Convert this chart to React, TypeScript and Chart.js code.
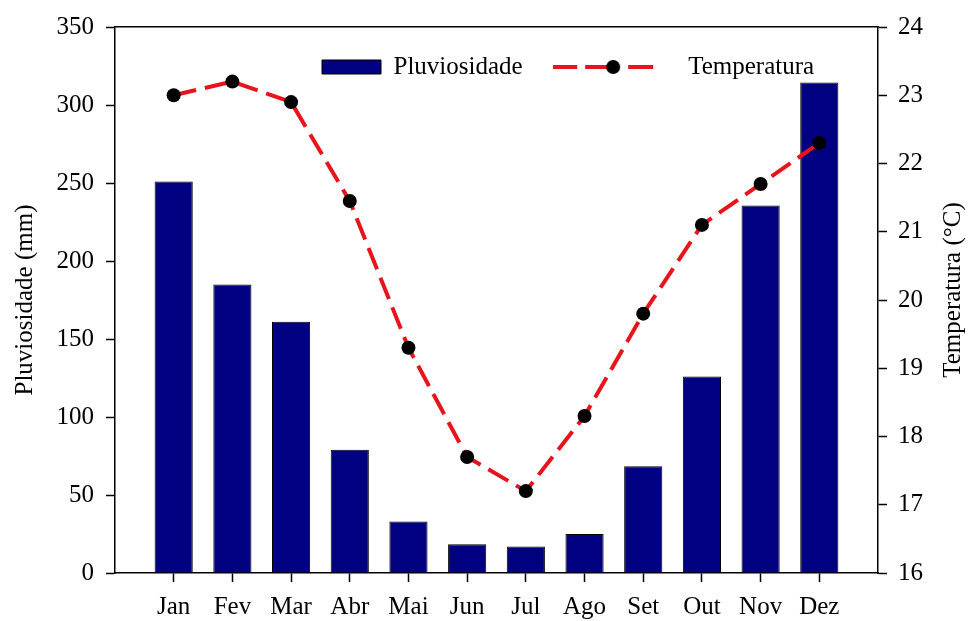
import React, { useEffect, useRef } from 'react';
import { Chart, registerables } from 'chart.js';

Chart.register(...registerables);

const months = ['Jan', 'Fev', 'Mar', 'Abr', 'Mai', 'Jun', 'Jul', 'Ago', 'Set', 'Out', 'Nov', 'Dez'];
const rainfall = [251, 185, 161, 79, 33, 18.5, 17, 25, 68.5, 126, 235.5, 314.5];
const temperature = [23.0, 23.2, 22.9, 21.45, 19.3, 17.7, 17.2, 18.3, 19.8, 21.1, 21.7, 22.3];
const rainTicks = [0, 50, 100, 150, 200, 250, 300, 350];
const tempTicks = [16, 17, 18, 19, 20, 21, 22, 23, 24];

const seriesNames = ['Pluviosidade', 'Temperatura'];
const axisTitles = ['Pluviosidade (mm)', 'Temperatura (°C)'];

const FONT = "'Liberation Serif', 'Times New Roman', serif";
const SIZE = 25;
const BAR_COLOR = '#000080';
const LINE_COLOR = '#e8141c';

export default function App() {
  const ref = useRef<HTMLCanvasElement | null>(null);

  useEffect(() => {
    if (!ref.current) return;
    // padded category axis: one empty slot at each end
    const labels = ['', ...months, ''];
    const rainData = [null, ...rainfall, null];
    const tempData = [null, ...temperature, null];
    const last = labels.length - 1;

    // legend sample for the line series
    const sample = document.createElement('canvas');
    sample.width = 186;
    sample.height = 16;
    const sc = sample.getContext('2d')!;
    sc.strokeStyle = LINE_COLOR;
    sc.lineWidth = 4;
    const segs = [[0, 24], [32, 57], [75, 100]];
    segs.forEach(([a, b]) => {
      sc.beginPath();
      sc.moveTo(a, 8);
      sc.lineTo(b, 8);
      sc.stroke();
    });
    sc.fillStyle = '#000';
    sc.beginPath();
    sc.arc(60, 8, 7, 0, Math.PI * 2);
    sc.fill();

    const legendPad = 94;

    const legendPlugin = {
      id: 'legendPlace',
      beforeInit(chart: any) {
        const lg = chart.legend;
        if (!lg) return;
        const orig = lg.fit;
        lg.fit = function () {
          orig.call(this);
          this.height = 0;
        };
      },
      afterLayout(chart: any) {
        const lg = chart.legend;
        if (!lg) return;
        lg.top = 67 - SIZE / 2 - legendPad;
        lg.bottom = 140;
        lg.left = 322 - legendPad;
        lg.right = 975;
      },
    };

    const rightTitle = {
      id: 'rightTitle',
      afterDraw(chart: any) {
        const { ctx, chartArea } = chart;
        ctx.save();
        ctx.font = `${SIZE}px ${FONT}`;
        ctx.fillStyle = '#000';
        ctx.textAlign = 'center';
        ctx.textBaseline = 'middle';
        ctx.translate(953, (chartArea.top + chartArea.bottom) / 2 - 10);
        ctx.rotate(-Math.PI / 2);
        ctx.fillText(axisTitles[1], 0, 0);
        ctx.restore();
      },
    };

    const font = { family: FONT, size: SIZE };

    const chart = new Chart(ref.current, {
      type: 'bar',
      data: {
        labels,
        datasets: [
          {
            type: 'bar',
            label: seriesNames[0],
            data: rainData as any,
            backgroundColor: BAR_COLOR,
            borderColor: '#000',
            borderWidth: 1,
            barPercentage: 0.65,
            categoryPercentage: 1,
            xAxisID: 'x',
            yAxisID: 'y',
            order: 2,
          },
          {
            type: 'line',
            label: seriesNames[1],
            data: tempData as any,
            borderColor: LINE_COLOR,
            borderWidth: 4,
            borderDash: [23, 9],
            pointRadius: 7,
            pointBackgroundColor: '#000',
            pointBorderColor: '#000',
            pointBorderWidth: 0,
            tension: 0,
            spanGaps: false,
            xAxisID: 'x',
            yAxisID: 'y1',
            order: 1,
          } as any,
        ],
      },
      options: {
        animation: false,
        responsive: true,
        maintainAspectRatio: false,
        layout: { padding: { top: 25, left: 0, right: 0, bottom: 0 } },
        plugins: {
          tooltip: { enabled: false },
          legend: {
            display: true,
            position: 'top',
            align: 'start',
            labels: {
              font,
              color: '#000',
              usePointStyle: true,
              pointStyleWidth: 59,
              boxWidth: 59,
              boxHeight: 14,
              padding: legendPad,
              generateLabels: (c: any) => [
                {
                  text: c.data.datasets[0].label,
                  fillStyle: BAR_COLOR,
                  strokeStyle: '#000',
                  lineWidth: 1,
                  pointStyle: 'rect',
                  hidden: false,
                  datasetIndex: 0,
                  fontColor: '#000',
                },
                {
                  text: c.data.datasets[1].label,
                  fillStyle: '#000',
                  strokeStyle: '#000',
                  lineWidth: 0,
                  pointStyle: sample,
                  hidden: false,
                  datasetIndex: 1,
                  fontColor: '#000',
                },
              ],
            },
          },
        },
        scales: {
          x: {
            type: 'category',
            position: 'bottom',
            offset: false,
            grid: {
              display: true,
              offset: false,
              drawOnChartArea: false,
              drawTicks: true,
              tickLength: 9,
              tickWidth: 1.5,
              tickColor: (ctx: any) => (ctx.index === 0 || ctx.index === last ? 'rgba(0,0,0,0)' : '#000'),
            },
            border: { display: true, color: '#000', width: 1.5 },
            ticks: { font, color: '#000', padding: 10, maxRotation: 0, autoSkip: false },
            afterFit: (s: any) => {
              s.height = 48;
            },
          },
          x2: {
            type: 'category',
            position: 'top',
            display: true,
            grid: { display: false, drawTicks: false },
            border: { display: true, color: '#000', width: 1.5 },
            ticks: { display: false },
            afterFit: (s: any) => {
              s.height = 0;
            },
          },
          y: {
            type: 'linear',
            position: 'left',
            min: rainTicks[0],
            max: rainTicks[rainTicks.length - 1],
            afterBuildTicks: (s: any) => {
              s.ticks = rainTicks.map((v) => ({ value: v }));
            },
            grid: {
              display: true,
              drawOnChartArea: false,
              drawTicks: true,
              tickLength: 9,
              tickWidth: 1.5,
              tickColor: '#000',
            },
            border: { display: true, color: '#000', width: 1.5 },
            ticks: { font, color: '#000', padding: 12 },
            title: {
              display: true,
              text: axisTitles[0],
              font,
              color: '#000',
              padding: { top: 10, bottom: 0 },
            },
            afterFit: (s: any) => {
              s.width = 115;
            },
          },
          y1: {
            type: 'linear',
            position: 'right',
            min: tempTicks[0],
            max: tempTicks[tempTicks.length - 1],
            afterBuildTicks: (s: any) => {
              s.ticks = tempTicks.map((v) => ({ value: v }));
            },
            grid: {
              display: true,
              drawOnChartArea: false,
              drawTicks: true,
              tickLength: 9,
              tickWidth: 1.5,
              tickColor: '#000',
            },
            border: { display: true, color: '#000', width: 1.5 },
            ticks: { font, color: '#000', padding: 11 },
            afterFit: (s: any) => {
              s.width = 97;
            },
          },
        },
      } as any,
      plugins: [legendPlugin, rightTitle],
    });

    return () => chart.destroy();
  }, []);

  return (
    <div style={{ position: 'fixed', left: 0, top: 0, width: '975px', height: '621px', background: '#fff' }}>
      <canvas ref={ref} />
    </div>
  );
}
